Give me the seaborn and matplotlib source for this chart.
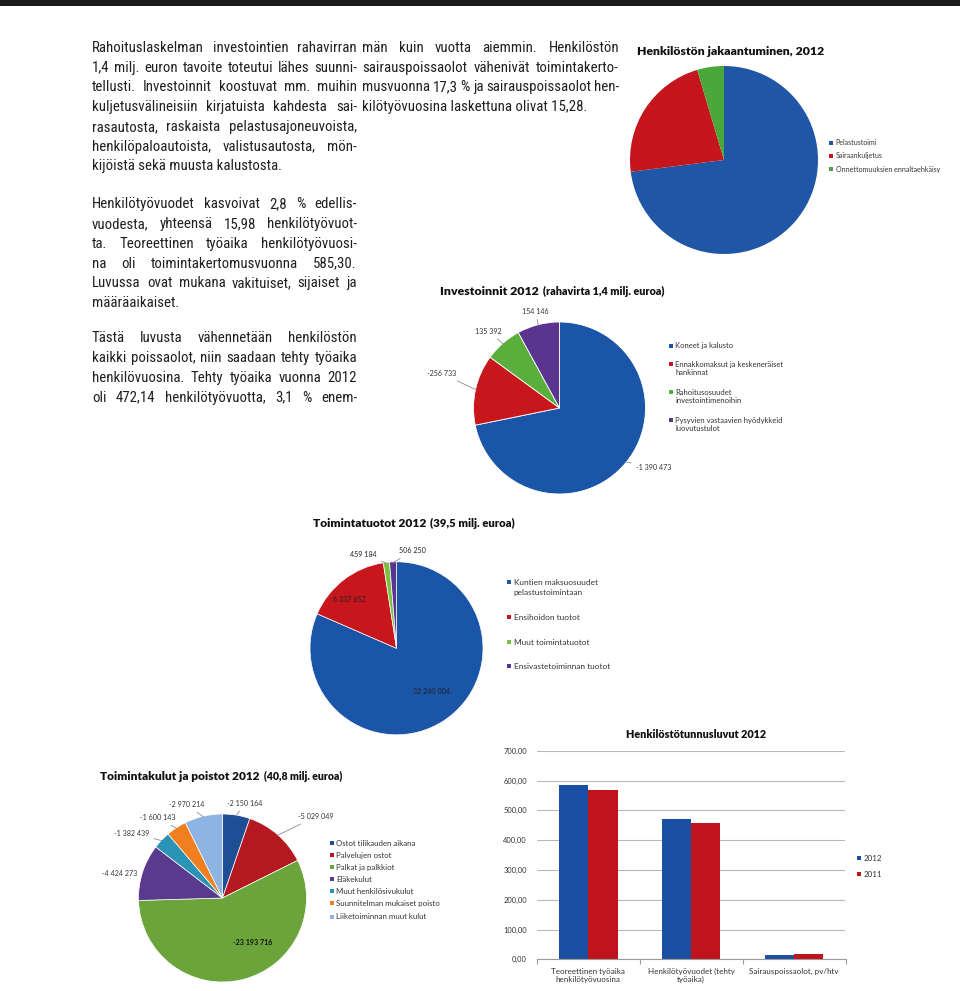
import os
import numpy as np
import pandas as pd
import matplotlib
matplotlib.use("Agg")
import matplotlib.pyplot as plt
import seaborn as sns
from matplotlib.patches import Rectangle
from matplotlib import font_manager as fm

# ---------------- data ----------------
staff_labels = ["Pelastustoimi", "Sairaankuljetus", "Onnettomuuksien ennaltaehkäisy"]
staff_share = [73.0, 22.4, 4.6]

inv_labels = ["Koneet ja kalusto", "Ennakkomaksut ja keskeneräiset\nhankinnat",
              "Rahoitusosuudet\ninvestointimenoihin", "Pysyvien vastaavien hyödykkeid\nluovutustulot"]
inv_values = [-1390473, -256733, 135392, 154146]

rev_labels = ["Kuntien maksuosuudet\npelastustoimintaan", "Ensihoidon tuotot",
              "Muut toimintatuotot", "Ensivastetoiminnan tuotot"]
rev_values = [32240004, 6337652, 459184, 506250]

cost_labels = ["Ostot tilikauden aikana", "Palvelujen ostot", "Palkat ja palkkiot", "Eläkekulut",
               "Muut henkilösivukulut", "Suunnitelman mukaiset poisto", "Liiketoiminnan muut kulut"]
cost_values = [-2150164, -5029049, -23193716, -4424273, -1382439, -1600143, -2970214]

bar_categories = ["Teoreettinen työaika\nhenkilötyövuosina", "Henkilötyövuodet (tehty\ntyöaika)",
                  "Sairauspoissaolot, pv/htv"]
bar_years = ["2012", "2011"]
bar_2012 = [585.30, 472.14, 15.28]
bar_2011 = [569.32, 457.94, 18.48]
bar_yticks = [0, 100, 200, 300, 400, 500, 600, 700]

par1 = ["Rahoituslaskelman investointien rahavirran",
        "1,4 milj. euron tavoite toteutui lähes suunni-",
        "tellusti. Investoinnit koostuvat mm. muihin",
        "kuljetusvälineisiin kirjatuista kahdesta sai-",
        "rasautosta, raskaista pelastusajoneuvoista,",
        "henkilöpaloautoista, valistusautosta, mön-",
        "kijöistä sekä muusta kalustosta."]
par2 = ["Henkilötyövuodet kasvoivat 2,8 % edellis-",
        "vuodesta, yhteensä 15,98 henkilötyövuot-",
        "ta. Teoreettinen työaika henkilötyövuosi-",
        "na oli toimintakertomusvuonna 585,30.",
        "Luvussa ovat mukana vakituiset, sijaiset ja",
        "määräaikaiset."]
par3 = ["Tästä luvusta vähennetään henkilöstön",
        "kaikki poissaolot, niin saadaan tehty työaika",
        "henkilövuosina. Tehty työaika vuonna 2012",
        "oli 472,14 henkilötyövuotta, 3,1 % enem-"]
par4 = ["män kuin vuotta aiemmin. Henkilöstön",
        "sairauspoissaolot vähenivät toimintakerto-",
        "musvuonna 17,3 % ja sairauspoissaolot hen-",
        "kilötyövuosina laskettuna olivat 15,28."]

# ---------------- setup ----------------
W, H = 960, 991
sns.set_theme(style="white")
plt.rcParams['font.family'] = ['Lato', 'DejaVu Sans']
TXT = '#231f20'
CH = '#262626'


def pick_body_font():
    cands = [('Open Sans SemiCondensed', 'normal'), ('Open Sans', 'semi-condensed'),
             ('Noto Sans SemiCondensed', 'normal'), ('Noto Sans', 'semi-condensed'),
             ('Roboto Condensed', 'normal'), ('Open Sans Condensed', 'normal'),
             ('Liberation Sans Narrow', 'normal'), ('DejaVu Sans Condensed', 'normal')]
    for fam, st in cands:
        try:
            p = fm.findfont(fm.FontProperties(family=fam, stretch=st, weight='normal', style='normal'),
                            fallback_to_default=False)
        except Exception:
            continue
        b = os.path.basename(p).lower()
        if ('cond' in b or 'narrow' in b) and 'italic' not in b and 'bold' not in b:
            return p
    return fm.findfont(fm.FontProperties(family='Roboto'))


BODY_FILE = pick_body_font()

fig = plt.figure(figsize=(W / 100, H / 100), dpi=100)
fig.patch.set_facecolor('white')
renderer = fig.canvas.get_renderer()


def fx(x):
    return x / W


def fy(y):
    return 1 - y / H


def bprop(size):
    return fm.FontProperties(fname=BODY_FILE, size=size)


def tw(s, size, weight='normal', body=False):
    if body:
        t = fig.text(0, 0, s, fontproperties=bprop(size))
    else:
        t = fig.text(0, 0, s, fontsize=size, fontweight=weight)
    w = t.get_window_extent(renderer).width
    t.remove()
    return w


def fit_size(s, width, weight='normal'):
    return 10 * width / tw(s, 10, weight)


def ftext(x, y, s, size, weight='normal', color=CH, ha='left', va='baseline'):
    return fig.text(fx(x), fy(y), s, fontsize=size, fontweight=weight, color=color, ha=ha, va=va)


def btext(x, y, s, size):
    return fig.text(fx(x), fy(y), s, fontproperties=bprop(size), color=TXT, ha='left', va='baseline')


def fmt(v):
    return f"{v:,.0f}".replace(",", " ")


# top rule
fig.patches.append(Rectangle((0, fy(5.5)), 1, 5.5 / H, transform=fig.transFigure,
                             facecolor='#1c1c1c', edgecolor='none'))

# ---------------- body text (justified) ----------------
col1 = (92, 357)
col2 = (362, 619)
justified = [(par1[:-1], col1), (par2[:-1], col1), (par3, col1), (par4[:-1], col2)]
SPACE10 = tw("a a", 10, body=True) - tw("aa", 10, body=True)
MIN_SPACE = 0.8
ratios = []
for lines, (a, b) in justified:
    for ln in lines:
        words = ln.split(' ')
        wsum = sum(tw(w, 10, body=True) for w in words)
        ratios.append((b - a) / (wsum + MIN_SPACE * SPACE10 * (len(words) - 1)))
BODY = 10 * min(ratios) * 0.995
DY = 19.75


def paragraph(lines, col, y0, last_full=False):
    x0, x1 = col
    for i, ln in enumerate(lines):
        yb = y0 + i * DY + 4.8
        words = ln.split(' ')
        if (i == len(lines) - 1 and not last_full) or len(words) == 1:
            btext(x0, yb, ln, BODY)
            continue
        ws = [tw(w, BODY, body=True) for w in words]
        gap = (x1 - x0 - sum(ws)) / (len(words) - 1)
        x = x0
        for w, wd in zip(words, ws):
            btext(x, yb, w, BODY)
            x += wd + gap


paragraph(par1, col1, 47)
paragraph(par2, col1, 203.5)
paragraph(par3, col1, 337.7, last_full=True)
paragraph(par4, col2, 47)


# ---------------- helpers for pies ----------------
def pie_axes(cx, cy, r):
    return fig.add_axes([fx(cx - r), fy(cy + r), 2 * r / W, 2 * r / H])


def finish(ax):
    ax.set_xlim(-1, 1)
    ax.set_ylim(-1, 1)
    ax.set_aspect('equal')
    ax.axis('off')


def title2(x0, yb, main, main_w, sub, sub_w, gap=3.5):
    s1 = fit_size(main, main_w, 'heavy')
    ftext(x0, yb, main, s1, 'heavy', color='#111111')
    if sub:
        s2 = fit_size(sub, sub_w, 'heavy')
        ftext(x0 + main_w + gap, yb, sub, s2, 'heavy', color='#111111')


def legend(x_sq, ref_label, ref_w, items, line_gap=8.2, sq=4.0):
    size = fit_size(ref_label, ref_w)
    for y, lab, col in items:
        fig.patches.append(Rectangle((fx(x_sq - sq / 2), fy(y + sq / 2)), sq / W, sq / H,
                                     transform=fig.transFigure, facecolor=col, edgecolor='none'))
        for k, part in enumerate(lab.split('\n')):
            ftext(x_sq + 4.5, y + k * line_gap + size * 100 / 72 * 0.36, part, size, color='#333333')


def place_label(ax, wedge, text, dcw, R, size, weight='normal', leader=True, color='#333333'):
    mid = np.deg2rad((wedge.theta1 + wedge.theta2) / 2)
    phi = mid - np.deg2rad(dcw)
    pos = (R * np.cos(phi), R * np.sin(phi))
    edge = (0.99 * np.cos(mid), 0.99 * np.sin(mid))
    if leader:
        ax.annotate(text, xy=edge, xytext=pos, ha='center', va='center', fontsize=size,
                    fontweight=weight, color=color, annotation_clip=False,
                    arrowprops=dict(arrowstyle='-', color='#8c8c8c', lw=0.6,
                                    shrinkA=1, shrinkB=0))
    else:
        ax.text(pos[0], pos[1], text, ha='center', va='center', fontsize=size,
                fontweight=weight, color=color)


# ---------------- A: Henkilöstön jakaantuminen ----------------
title2(636.7, 55, "Henkilöstön jakaantuminen, 2012", 188.5, None, 0)
axA = pie_axes(724, 160, 94)
colA = ['#1f56a5', '#c4161c', '#4aa83a']
axA.pie(staff_share, colors=colA, startangle=90, counterclock=False, radius=1,
        wedgeprops=dict(edgecolor='none'))
finish(axA)
legend(831, staff_labels[2], 103, [(142.5, staff_labels[0], colA[0]),
                                   (155.5, staff_labels[1], colA[1]),
                                   (169, staff_labels[2], colA[2])])

# ---------------- B: Investoinnit ----------------
title2(440, 295, "Investoinnit 2012", 99.5, "(rahavirta 1,4 milj. euroa)", 120.5)
axB = pie_axes(559.5, 408, 86)
colB = ['#1b55a7', '#c8161d', '#5aae3c', '#5a3590']
wB, _ = axB.pie(np.abs(inv_values), colors=colB, startangle=90, counterclock=False, radius=1,
                wedgeprops=dict(edgecolor='white', linewidth=0.6))
finish(axB)
labsize = fit_size("-1 390 473", 35)
posB = [(-7, 1.29), (4, 1.43), (-1.7, 1.22), (0.3, 1.16)]
for w, v, (d, R) in zip(wB, inv_values, posB):
    place_label(axB, w, fmt(v), d, R, labsize)
legend(670.7, "Ennakkomaksut ja keskeneräiset", 108,
       [(345.7, inv_labels[0], colB[0]), (364.3, inv_labels[1], colB[1]),
        (392, inv_labels[2], colB[2]), (420, inv_labels[3], colB[3])])

# ---------------- C: Toimintatuotot ----------------
title2(312.7, 527, "Toimintatuotot 2012", 114, "(39,5 milj. euroa)", 85)
axC = pie_axes(396.5, 648.3, 86.5)
colC = ['#1b55a7', '#c8161d', '#7cc142', '#5a3590']
wC, _ = axC.pie(rev_values, colors=colC, startangle=90, counterclock=False, radius=1,
                wedgeprops=dict(edgecolor='white', linewidth=0.5))
finish(axC)
posC = [(-5.8, 0.64, False), (-6.3, 0.78, False), (-12.6, 1.15, True), (11.6, 1.14, True)]
for w, v, (d, R, ld) in zip(wC, rev_values, posC):
    place_label(axC, w, fmt(v), d, R, labsize, leader=ld, color='#222222')
legend(509, "Ensivastetoiminnan tuotot", 96,
       [(582.3, rev_labels[0], colC[0]), (617.3, rev_labels[1], colC[1]),
        (641.7, rev_labels[2], colC[2]), (666, rev_labels[3], colC[3])], line_gap=9.4)

# ---------------- D: Toimintakulut ----------------
title2(100, 780, "Toimintakulut ja poistot 2012", 160, "(40,8 milj. euroa)", 79)
axD = pie_axes(222.5, 898, 84)
colD = ['#1e4f95', '#b51a22', '#6aa43a', '#5a3a8c', '#2a93b6', '#f0801f', '#8db4e2']
wD, _ = axD.pie(np.abs(cost_values), colors=colD, startangle=90, counterclock=False, radius=1,
                wedgeprops=dict(edgecolor='white', linewidth=0.5))
finish(axD)
posD = [(3.5, 1.16, True), (7.7, 1.47, True), (-19.6, 0.64, False), (-4.4, 1.26, False),
        (-8, 1.33, True), (-5.8, 1.23, True), (-8, 1.19, True)]
for i, (w, v, (d, R, ld)) in enumerate(zip(wD, cost_values, posD)):
    place_label(axD, w, fmt(v), d, R, labsize, weight='bold' if i == 2 else 'normal',
                leader=ld, color='#111111' if i == 2 else '#333333')
legend(331.7, "Suunnitelman mukaiset poisto", 105,
       [(y, lab, c) for y, lab, c in zip([843.3, 855.3, 867, 878.7, 890.7, 903.3, 916.5],
                                         cost_labels, colD)])

# ---------------- E: Henkilöstötunnusluvut (seaborn barplot) ----------------
ftext(696.3, 737.5, "Henkilöstötunnusluvut 2012", fit_size("Henkilöstötunnusluvut 2012", 140.5, 'heavy'),
      'heavy', color='#111111', ha='center')
df = pd.DataFrame({
    'kategoria': bar_categories * 2,
    'arvo': bar_2012 + bar_2011,
    'vuosi': [bar_years[0]] * len(bar_categories) + [bar_years[1]] * len(bar_categories),
})
colE = ['#1a4fa3', '#c0141d']
axE = fig.add_axes([fx(536.7), fy(959.3), (845.5 - 536.7) / W, (959.3 - 750.7) / H])
sns.barplot(data=df, x='kategoria', y='arvo', hue='vuosi', palette=colE, width=0.57,
            saturation=1, ax=axE, legend=False, edgecolor='none', linewidth=0)
axE.set_xlim(-0.5, 2.5)
axE.set_ylim(0, 700)
axE.set_xlabel('')
axE.set_ylabel('')
tick_size = fit_size("700,00", 23.3)
axE.set_yticks(bar_yticks)
axE.set_yticklabels([f"{v:.2f}".replace('.', ',') for v in bar_yticks], fontsize=tick_size, color='#333333')
axE.yaxis.grid(True, color='#b8b8b8', lw=0.8)
axE.set_axisbelow(True)
for s in ['left', 'right', 'top']:
    axE.spines[s].set_visible(False)
axE.spines['bottom'].set_color('#9a9a9a')
axE.spines['bottom'].set_linewidth(0.8)
axE.tick_params(axis='y', length=0, pad=7)
xl_size = fit_size("Sairauspoissaolot, pv/htv", 88.7)
axE.set_xticks(range(len(bar_categories)))
axE.set_xticklabels(bar_categories, fontsize=xl_size, color='#333333', linespacing=1.25)
axE.tick_params(axis='x', which='major', length=0, pad=6)
axE.set_xticks([-0.5, 0.5, 1.5, 2.5], minor=True)
axE.tick_params(axis='x', which='minor', length=3.5, color='#9a9a9a', width=0.8, bottom=True)
legend(859.3, "2012", 18.7, [(858.3, bar_years[0], colE[0]), (874.3, bar_years[1], colE[1])])

fig.savefig('out.png', dpi=100, facecolor='white')
